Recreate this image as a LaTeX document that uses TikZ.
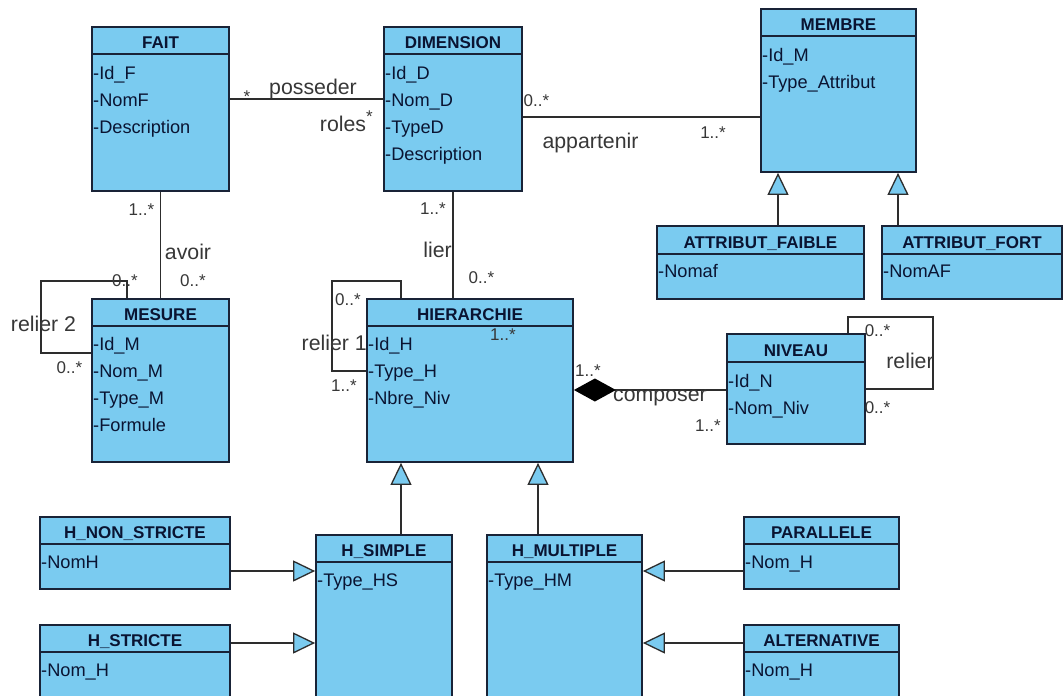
\documentclass[tikz,border=0pt]{standalone}
\usepackage{fontspec}
\setmainfont{Liberation Sans}
\usetikzlibrary{arrows.meta,fit,calc}
\definecolor{umlblue}{RGB}{122,203,240}
\definecolor{umledge}{RGB}{25,35,55}
\definecolor{umltext}{RGB}{10,20,50}
\definecolor{lbltext}{RGB}{55,55,55}
\definecolor{connline}{RGB}{45,45,45}
\tikzset{
 clsbox/.style={draw=umledge, fill=umlblue, line width=1.8pt, inner sep=0pt},
 clsline/.style={draw=umledge, line width=1.6pt},
 clstitle/.style={anchor=base, inner sep=0pt, text=umltext, font=\fontsize{17}{20}\selectfont\bfseries},
 clsattr/.style={anchor=base west, inner sep=0pt, text=umltext, font=\fontsize{18.2}{20}\selectfont},
 lbl/.style={anchor=base, inner sep=0pt, text=lbltext, font=\fontsize{21.3}{23}\selectfont},
 mult/.style={anchor=base, inner sep=0pt, text=lbltext, font=\fontsize{17}{20}\selectfont},
 conn/.style={draw=connline, line width=1.3pt},
 gen/.style={conn, -{Triangle[length=22pt,width=21pt,fill=umlblue,line width=1.3pt]}},
 comp/.style={conn, {Diamond[length=42pt,width=23pt,fill=black,color=black]}-},
}
\newcommand\umlclass[7]{%
 \node[clsbox, fit={(#2,#3) (#4,#5)}] (#1) {};
 \draw[clsline] (#1.west |- 0,#6) -- (#1.east |- 0,#6);
 \node[clstitle] (#1-t) at ({(#2+#4)/2},{#6-6}) {#7};
}
\newcommand\umlattr[4]{\node[clsattr] (#1) at (#2,#3) {#4};}
\begin{document}
\begin{tikzpicture}[x=1pt,y=-1pt]
\useasboundingbox (0,0) rectangle (1063,696);
\clip (0,0) rectangle (1063,696);
% classes
\umlclass{fait}{92}{27}{229}{191}{54}{FAIT}
\umlclass{dim}{384}{27}{522}{191}{54}{DIMENSION}
\umlclass{membre}{761}{9}{916}{172}{36}{MEMBRE}
\umlclass{afaible}{657}{226}{864}{299}{254}{ATTRIBUT\_FAIBLE}
\umlclass{afort}{882}{226}{1062}{299}{254}{ATTRIBUT\_FORT}
\umlclass{mesure}{92}{299}{229}{462}{326}{MESURE}
\umlclass{hier}{367}{299}{573}{462}{326}{HIERARCHIE}
\umlclass{niveau}{727}{334}{865}{444}{362}{NIVEAU}
\umlclass{hns}{40}{517}{230}{589}{544}{H\_NON\_STRICTE}
\umlclass{hst}{40}{625}{230}{720}{652}{H\_STRICTE}
\umlclass{hsimple}{316}{535}{452}{720}{562}{H\_SIMPLE}
\umlclass{hmult}{487}{535}{642}{720}{562}{H\_MULTIPLE}
\umlclass{par}{744}{517}{899}{589}{544}{PARALLELE}
\umlclass{alt}{744}{625}{899}{720}{652}{ALTERNATIVE}
% attributes
\umlattr{fa1}{93}{79.5}{-Id\_F}
\umlattr{fa2}{93}{106.5}{-NomF}
\umlattr{fa3}{93}{133.5}{-Description}
\umlattr{da1}{385}{79.5}{-Id\_D}
\umlattr{da2}{385}{106.5}{-Nom\_D}
\umlattr{da3}{385}{133.5}{-TypeD}
\umlattr{da4}{385}{160.5}{-Description}
\umlattr{ma1}{762}{61.5}{-Id\_M}
\umlattr{ma2}{762}{88.5}{-Type\_Attribut}
\umlattr{afa1}{658}{277}{-Nomaf}
\umlattr{afo1}{883}{277}{-NomAF}
\umlattr{me1}{93}{350.7}{-Id\_M}
\umlattr{me2}{93}{377.7}{-Nom\_M}
\umlattr{me3}{93}{404.7}{-Type\_M}
\umlattr{me4}{93}{431.7}{-Formule}
\umlattr{hi1}{368}{350}{-Id\_H}
\umlattr{hi2}{368}{377}{-Type\_H}
\umlattr{hi3}{368}{404}{-Nbre\_Niv}
\umlattr{ni1}{728}{387}{-Id\_N}
\umlattr{ni2}{728}{414}{-Nom\_Niv}
\umlattr{hn1}{41}{568}{-NomH}
\umlattr{hs1}{41}{676}{-Nom\_H}
\umlattr{si1}{317}{586}{-Type\_HS}
\umlattr{mu1}{488}{586}{-Type\_HM}
\umlattr{pa1}{745}{568}{-Nom\_H}
\umlattr{al1}{745}{676}{-Nom\_H}
% connectors
\draw[conn] (fait.east |- 0,99) -- (dim.west |- 0,99);
\draw[conn] (dim.east |- 0,117) -- (membre.west |- 0,117);
\draw[conn] (fait.south) -- (mesure.north);
\draw[conn] (dim.south) -- (dim.south |- hier.north);
\draw[conn] (mesure.north -| 127,0) |- (41,281) |- (mesure.west |- 0,353);
\draw[conn] (hier.north -| 401,0) |- (332,281) |- (hier.west |- 0,371);
\draw[conn] (niveau.north -| 848,0) |- (933,317) |- (niveau.east |- 0,389);
\draw[comp] (hier.east |- 0,390) -- (niveau.west |- 0,390);
\draw[gen] (afaible.north -| 778,0) -- (membre.south -| 778,0);
\draw[gen] (afort.north -| 898,0) -- (membre.south -| 898,0);
\draw[gen] (hsimple.north -| 401,0) -- (hier.south -| 401,0);
\draw[gen] (hmult.north -| 538,0) -- (hier.south -| 538,0);
\draw[gen] (hns.east |- 0,571) -- (hsimple.west |- 0,571);
\draw[gen] (hst.east |- 0,643) -- (hsimple.west |- 0,643);
\draw[gen] (par.west |- 0,571) -- (hmult.east |- 0,571);
\draw[gen] (alt.west |- 0,643) -- (hmult.east |- 0,643);
% labels
\node[mult] (m1) at (247,102.5) {*};
\node[lbl] (l1) at (313,94) {posseder};
\node[lbl] (l2) at (343,131.7) {roles};
\node[mult] (m2) at (369.5,122.6) {*};
\node[mult] (m3) at (536.5,106) {0..*};
\node[mult] (m4) at (713,138) {1..*};
\node[lbl] (l3) at (590.5,148) {appartenir};
\node[mult] (m5) at (141.5,215) {1..*};
\node[lbl] (l4) at (188,259) {avoir};
\node[mult] (m6) at (193,286) {0..*};
\node[mult] (m7) at (125,286) {0..*};
\node[lbl] (l5) at (43.5,331) {relier 2};
\node[mult] (m8) at (69.5,373) {0..*};
\node[mult] (m9) at (433,214) {1..*};
\node[lbl] (l6) at (437.5,257) {lier};
\node[mult] (m10) at (481.5,283) {0..*};
\node[mult] (m11) at (503,340) {1..*};
\node[mult] (m12) at (348,305) {0..*};
\node[lbl] (l7) at (334.3,350) {relier 1};
\node[mult] (m13) at (344,391.7) {1..*};
\node[mult] (m14) at (588,376.7) {1..*};
\node[lbl] (l8) at (660,401) {composer};
\node[mult] (m15) at (708,431) {1..*};
\node[mult] (m16) at (877.5,336) {0..*};
\node[lbl] (l9) at (910,368) {relier};
\node[mult] (m17) at (877.5,413) {0..*};
\end{tikzpicture}
\end{document}
